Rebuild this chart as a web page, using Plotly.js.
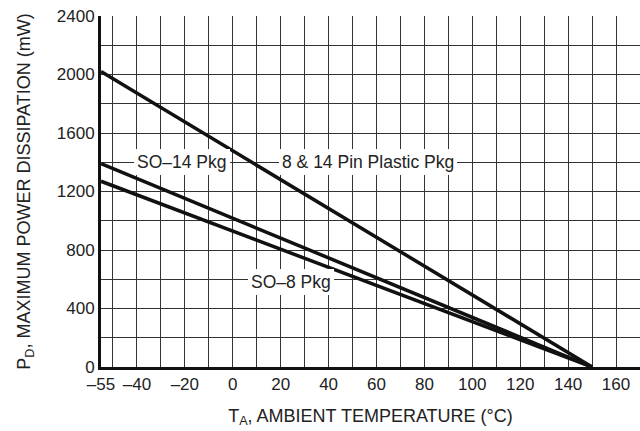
<!DOCTYPE html>
<html>
<head>
<meta charset="utf-8">
<script src="https://cdn.plot.ly/plotly-3.0.1.min.js"></script>
<style>html,body{margin:0;padding:0;background:#fff;}#chart{width:640px;height:431px;}</style>
</head>
<body>
<div id="chart"></div>
<script>
var temps = [-55, 150];
var plastic = [2020, 0];
var so14 = [1390, 0];
var so8 = [1270, 0];

var xTickVals = [-55, -40, -20, 0, 20, 40, 60, 80, 100, 120, 140, 160];
var xTickText = ["–55", "–40", "–20", "0", "20", "40", "60", "80", "100", "120", "140", "160"];
var yTickVals = [0, 400, 800, 1200, 1600, 2000, 2400];

var labels = [
  {text: "SO–14 Pkg", x: -21, y: 1400},
  {text: "8 & 14 Pin Plastic Pkg", x: 56.5, y: 1400},
  {text: "SO–8 Pkg", x: 24.5, y: 580}
];

var FONT = "Liberation Sans, Arial, sans-serif";
var lineStyle = {color: "#111", width: 3.5};

var traces = [
  {x: temps, y: plastic, mode: "lines", line: lineStyle, name: "8 & 14 Pin Plastic Pkg"},
  {x: temps, y: so14, mode: "lines", line: lineStyle, name: "SO–14 Pkg"},
  {x: temps, y: so8, mode: "lines", line: lineStyle, name: "SO–8 Pkg"}
];

var layout = {
  width: 640, height: 431,
  margin: {l: 101, r: 0, t: 16, b: 64},
  paper_bgcolor: "#fff", plot_bgcolor: "#fff",
  showlegend: false,
  font: {family: FONT, size: 17, color: "#222"},
  xaxis: {
    range: [-55, 170],
    tickmode: "array", tickvals: xTickVals, ticktext: xTickText,
    showgrid: true, gridcolor: "#333", gridwidth: 1,
    minor: {tickmode: "linear", tick0: 0, dtick: 10, showgrid: true, gridcolor: "#333", gridwidth: 1},
    showline: true, linecolor: "#111", linewidth: 3,
    zeroline: false, ticks: "",
    tickfont: {family: FONT, size: 17, color: "#222"},
    title: {text: "T<sub>A</sub>, AMBIENT TEMPERATURE (°C)", font: {family: FONT, size: 18, color: "#222"}, standoff: 16}
  },
  yaxis: {
    range: [0, 2400],
    tickmode: "array", tickvals: yTickVals,
    showgrid: true, gridcolor: "#333", gridwidth: 1,
    minor: {tickmode: "linear", tick0: 0, dtick: 200, showgrid: true, gridcolor: "#333", gridwidth: 1},
    showline: true, linecolor: "#111", linewidth: 3,
    zeroline: false, ticks: "",
    tickfont: {family: FONT, size: 17, color: "#222"},
    title: {text: "P<sub>D</sub>, MAXIMUM POWER DISSIPATION (mW)", font: {family: FONT, size: 18, color: "#222"}, standoff: 22}
  },
  annotations: labels.map(function (l) {
    return {
      text: l.text, x: l.x, y: l.y, xref: "x", yref: "y",
      showarrow: false, bgcolor: "#fff", borderpad: 3, borderwidth: 0,
      font: {family: FONT, size: 17.5, color: "#222"}
    };
  })
};

Plotly.newPlot("chart", traces, layout, {staticPlot: true, displayModeBar: false});
</script>
</body>
</html>
